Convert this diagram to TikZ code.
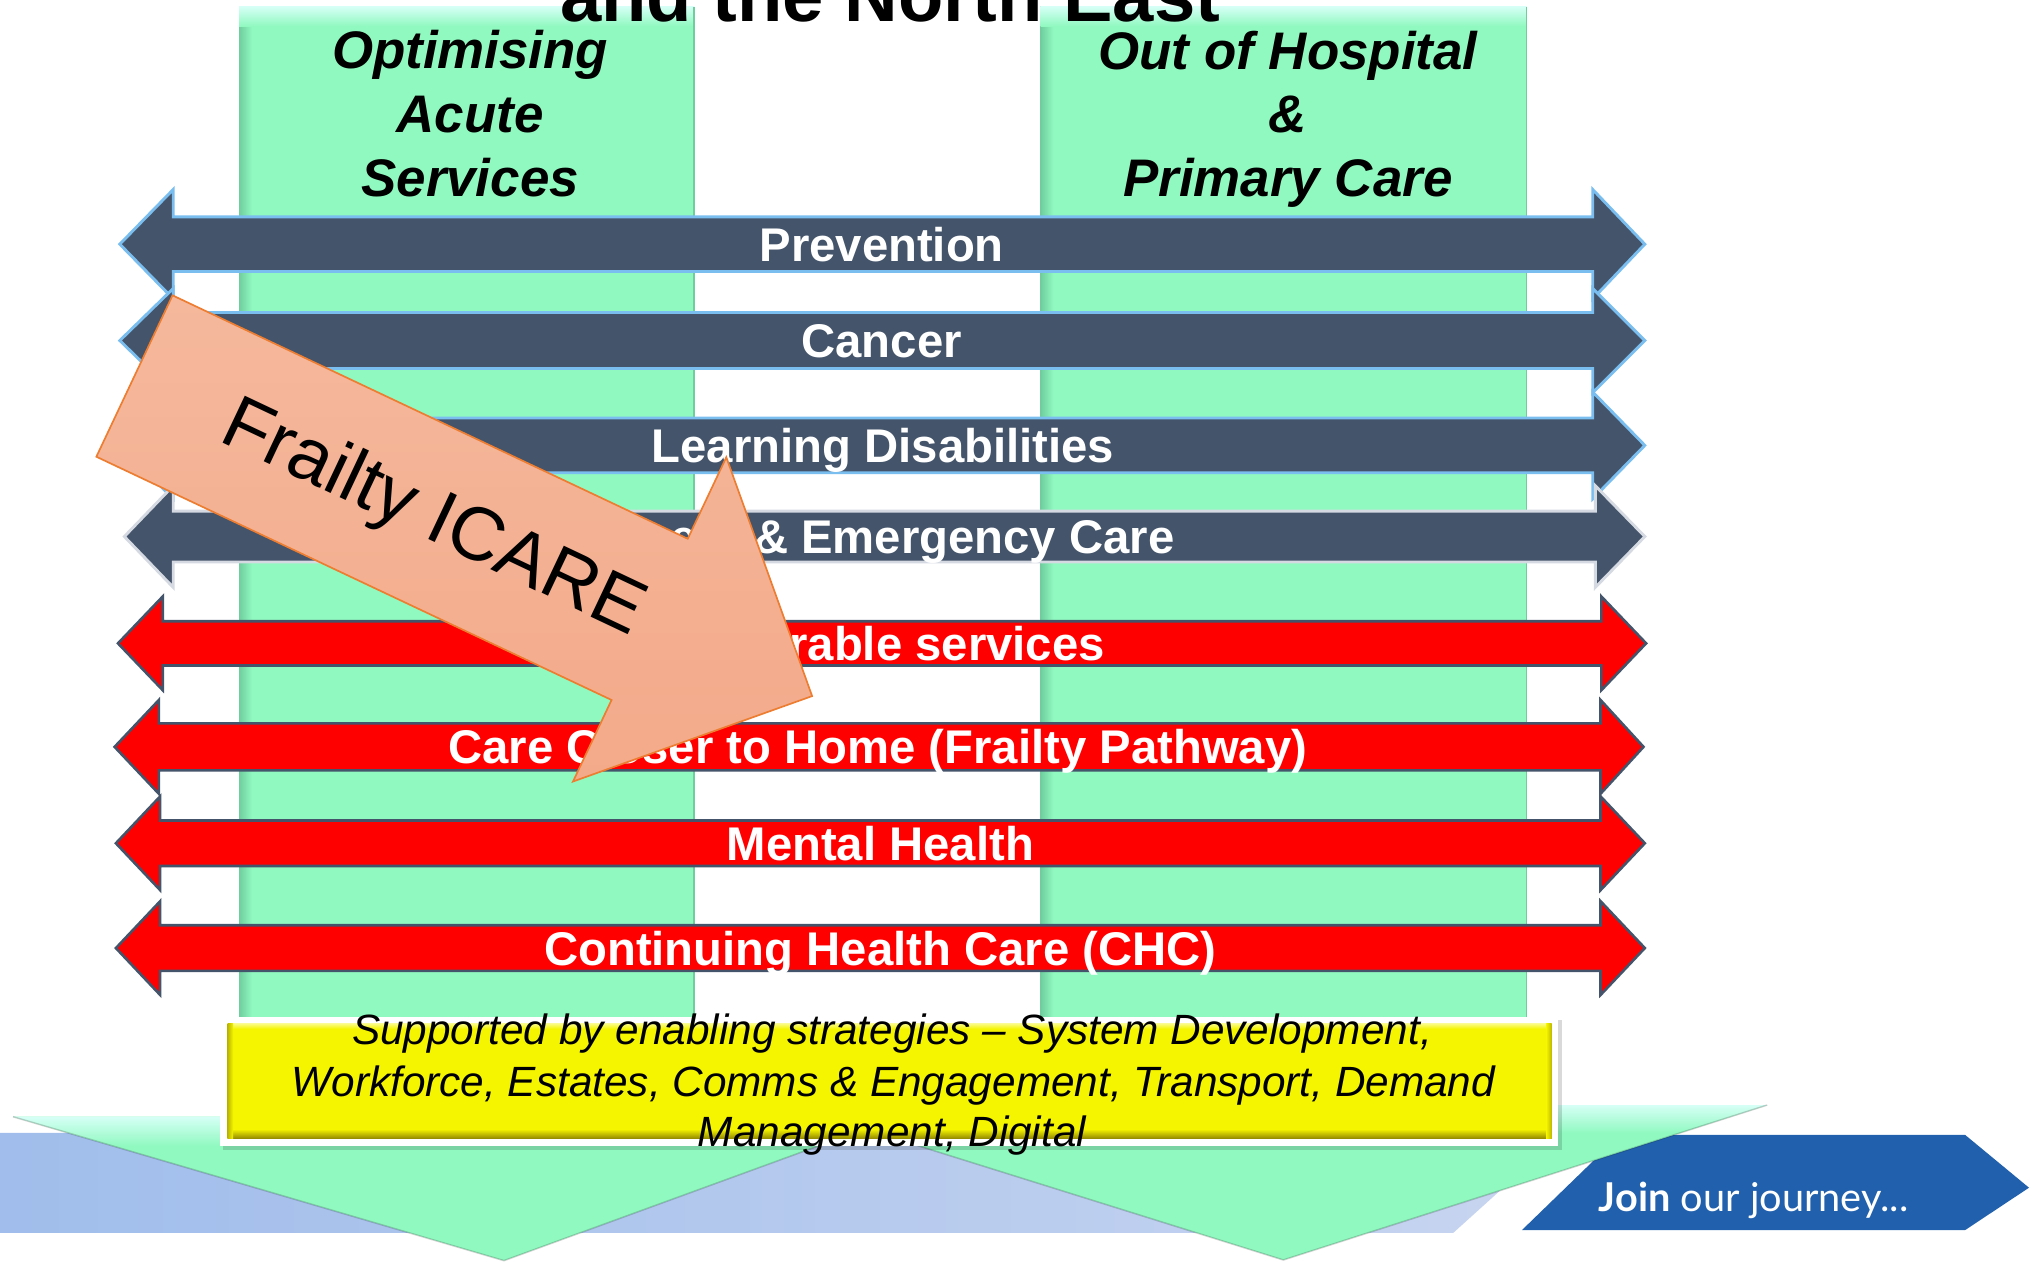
\documentclass[tikz,border=0pt]{standalone}
\usepackage{fontspec}
\setmainfont{Liberation Sans}
\newfontfamily\joinfont{Lato}

\definecolor{mint}{RGB}{144,249,192}
\definecolor{mintlight}{RGB}{214,255,246}
\definecolor{mintdark}{RGB}{112,206,158}
\definecolor{slate}{RGB}{68,84,106}
\definecolor{skyedge}{RGB}{122,190,240}
\definecolor{greyedge}{RGB}{212,217,226}
\definecolor{alarm}{RGB}{255,0,0}
\definecolor{salmon}{RGB}{245,184,156}
\definecolor{salmondeep}{RGB}{243,170,138}
\definecolor{orangeedge}{RGB}{237,125,49}
\definecolor{banana}{RGB}{245,245,0}
\definecolor{olive}{RGB}{150,140,0}
\definecolor{bandleft}{RGB}{160,189,235}
\definecolor{bandright}{RGB}{200,213,240}
\definecolor{joinblue}{RGB}{33,96,172}

% two-headed horizontal arrow:
% #1 style, #2 centre y, #3 shaft half height, #4 head half height,
% #5 left tip x, #6 left shaft x, #7 right shaft x, #8 right tip x
\newcommand\twoway[8]{%
  \draw[#1] (#5,#2) -- (#6,#2-#4) -- (#6,#2-#3) -- (#7,#2-#3) -- (#7,#2-#4)
    -- (#8,#2) -- (#7,#2+#4) -- (#7,#2+#3) -- (#6,#2+#3) -- (#6,#2+#4) -- cycle;}

\begin{document}
\begin{tikzpicture}[x=1pt,y=-1pt,
  bandlabel/.style={text=white, font=\bfseries\fontsize{36.3}{40}\selectfont, anchor=base, inner sep=0pt},
  headlabel/.style={text=black, font=\bfseries\itshape\fontsize{40.6}{48}\selectfont, anchor=base, inner sep=0pt},
  supportlabel/.style={text=black, font=\itshape\fontsize{32.5}{38}\selectfont, anchor=base, inner sep=0pt},
  greyarrow/.style={fill=slate, draw=skyedge, line width=2.2pt, line join=miter},
  greyarrowpale/.style={fill=slate, draw=greyedge, line width=2.2pt, line join=miter},
  redarrow/.style={fill=alarm, draw=slate, line width=2pt, line join=miter},
  chevronedge/.style={draw=black, draw opacity=0.18, line width=1.2pt},
]
\useasboundingbox (0,0) rectangle (1568,969);
\clip (0,0) rectangle (1568,969);
\fill[white] (0,0) rectangle (1568,969);

% pale blue band along the bottom
\shade[left color=bandleft, right color=bandright]
  (0,869.8) -- (1201,869.8) -- (1116,946.6) -- (0,946.6) -- cycle;

% banner at the bottom right
\fill[joinblue] (1168.7,944.5) -- (1244,871.5) -- (1509,871.5) -- (1558,912) -- (1509,944.5) -- cycle;
\node[anchor=base west, text=white, inner sep=0pt, font=\joinfont\fontsize{30.5}{32}\selectfont]
  (join) at (1227.6,930.4) {\textbf{Join} our journey...};

% the two columns funnel into downward chevrons
\begin{scope}
  \clip (10,857.5) -- (690,857.5) -- (387,968) -- cycle;
  \fill[mint] (0,850) rectangle (700,969);
  \shade[top color=mintlight, bottom color=mint] (0,857.5) rectangle (700,880);
\end{scope}
\draw[chevronedge] (10,857.5) -- (387,968) -- (690,857.5);
\begin{scope}
  \clip (605,848.5) -- (1357,848.5) -- (985.4,967.5) -- cycle;
  \fill[mint] (600,840) rectangle (1360,969);
  \shade[top color=mintlight, bottom color=mint] (600,848.5) rectangle (1360,870);
\end{scope}
\draw[chevronedge] (605,848.5) -- (985.4,967.5) -- (1357,848.5);

% columns
\foreach \xl/\xr in {183.6/533, 799/1172.3}{
  \fill[mint] (\xl,5) rectangle (\xr,870);
  \shade[left color=mintdark, right color=mint] (\xl,5) rectangle (\xl+10,870);
  \shade[top color=mintlight, bottom color=mint] (\xl,5) rectangle (\xr,20);
  \draw[mintdark, line width=1pt] (\xr,5) -- (\xr,870);
}

% heading (top of it runs off the page)
\node[anchor=base, inner sep=0pt, text=black, font=\bfseries\fontsize{57}{60}\selectfont]
  (title) at (683.5,16.6) {and the North East};

% column headings
\node[headlabel] (acute1) at (361,52.5) {Optimising};
\node[headlabel] (acute2) at (361,102) {Acute};
\node[headlabel] (acute3) at (361,151) {Services};
\node[headlabel] (ooh1) at (989,53) {Out of Hospital};
\node[headlabel] (ooh2) at (989,102) {\&};
\node[headlabel] (ooh3) at (989,151) {Primary Care};

% programme arrows
\twoway{greyarrow}{187.5}{21}{42}{92}{133}{1223}{1263}
\node[bandlabel] (prevention) at (677,200.5) {Prevention};
\twoway{greyarrow}{261.5}{21.5}{40}{92}{133}{1223}{1263}
\node[bandlabel] (cancer) at (677,274.5) {Cancer};
\twoway{greyarrow}{342}{21}{41}{92}{133}{1223}{1263}
\node[bandlabel] (ld) at (678,355) {Learning Disabilities};
\twoway{greyarrowpale}{412}{19.5}{39}{95.5}{133}{1225}{1263}
\node[bandlabel] (uec) at (677,425) {Urgent \& Emergency Care};

\twoway{redarrow}{494}{17}{36}{90.6}{125}{1229.6}{1264}
\node[bandlabel] (vulnerable) at (678.5,507) {Vulnerable services};
\twoway{redarrow}{573.5}{18}{36}{88}{122}{1229}{1262}
\node[bandlabel] (closer) at (674,586.5) {Care Closer to Home (Frailty Pathway)};
\twoway{redarrow}{647.5}{17.5}{36}{89}{123}{1229}{1263}
\node[bandlabel] (mental) at (676,660.5) {Mental Health};
\twoway{redarrow}{728}{17.5}{36}{89}{123}{1229}{1263}
\node[bandlabel] (chc) at (676,741) {Continuing Health Care (CHC)};

% enabling strategies box
\fill[black, opacity=0.15] (171.5,783) rectangle (1199.5,883);
\fill[white] (169,780.7) rectangle (1196.5,880);
\fill[banana] (174.8,785.8) rectangle (1191.5,874);
\shade[top color=white!55!banana, bottom color=banana] (174.8,785.8) rectangle (1191.5,790);
\shade[top color=banana, bottom color=olive] (174.8,867) rectangle (1191.5,874);
\shade[left color=olive!60!banana, right color=banana] (174.8,785.8) rectangle (179,874);
\shade[left color=banana, right color=olive!60!banana] (1187.3,785.8) rectangle (1191.5,874);
\node[supportlabel] (support1) at (685,802.4) {Supported by enabling strategies -- System Development,};
\node[supportlabel] (support2) at (686,842) {Workforce, Estates, Comms \& Engagement, Transport, Demand};
\node[supportlabel] (support3) at (685,880.5) {Management, Digital};

% Frailty ICARE arrow laid across the programmes
\shade[top color=salmon, bottom color=salmondeep, draw=orangeedge, line width=1.3pt, line join=miter]
  (132.5,226.8) -- (528.1,413.7) -- (557.7,351.1) -- (623.6,534.5)
  -- (440.0,600.1) -- (469.6,537.5) -- (74.0,350.7) -- cycle;
\node[rotate=-25.3, inner sep=0pt, text=black, font=\fontsize{58}{60}\selectfont]
  (frailty) at (332.5,399.5) {Frailty ICARE};
\end{tikzpicture}
\end{document}
